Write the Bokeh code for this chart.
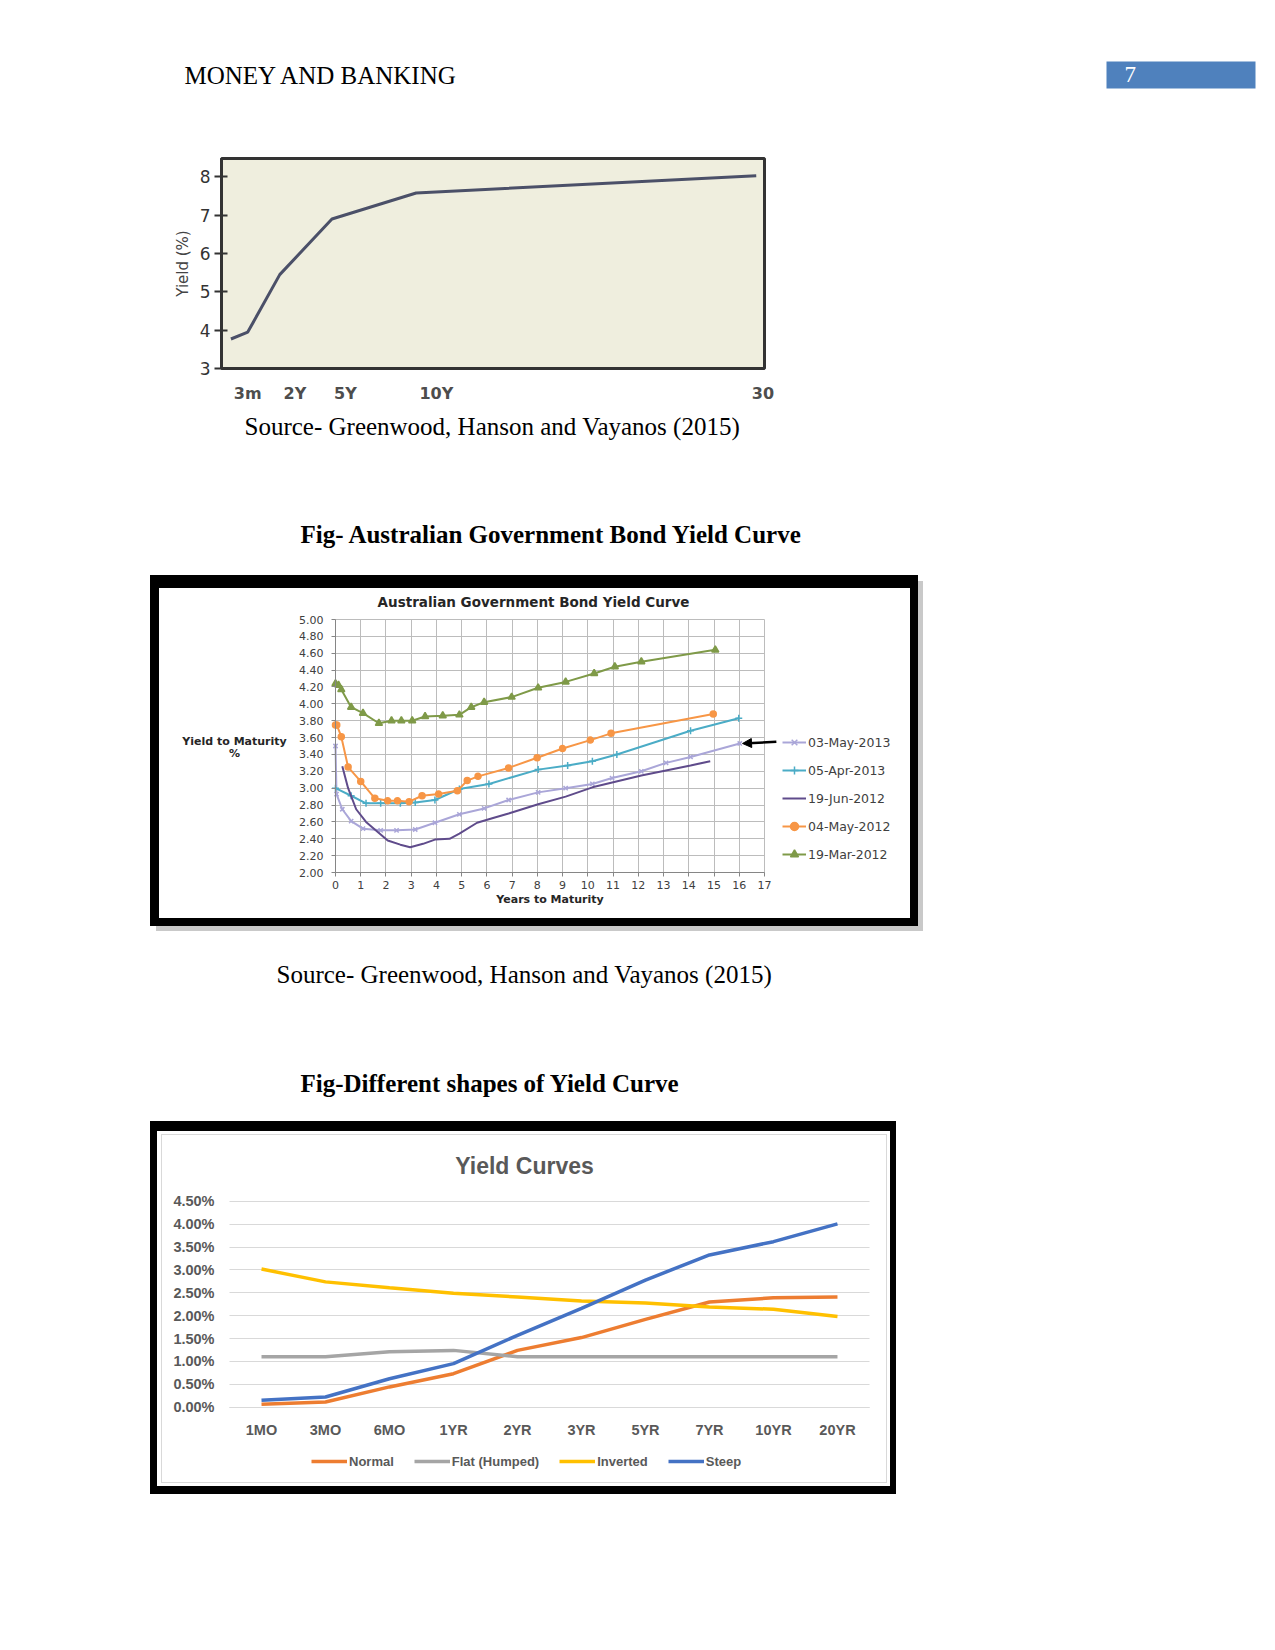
from bokeh.plotting import figure
from bokeh.layouts import column, row
from bokeh.models import (Range1d, Label, BoxAnnotation, Legend, LegendItem,
                          FixedTicker, PrintfTickFormatter, Arrow, NormalHead, Spacer)
from bokeh.embed import file_html
from bokeh.resources import INLINE

PAGE_W = 1275

# ---------------- data ----------------
# Chart 1 (generic upward sloping yield curve)
c1_pos = [-1.0, 0.0, 1.9, 5.0, 10.0, 30.2]
c1_yield = [3.77, 3.95, 5.45, 6.90, 7.58, 8.03]
c1_tick_pos = [0.0, 2.8, 5.8, 11.2, 30.6]
c1_tick_labels = ["3m", "2Y", "5Y", "10Y", "30"]
c1_y_ticks = [3, 4, 5, 6, 7, 8]

# Chart 2 (Australian Government Bond Yield Curve)
may03_2013_x = [0.0, 0.04, 0.27, 0.62, 1.09, 1.79, 2.42, 3.16, 3.94, 4.91, 5.89, 6.86, 8.03,
                9.12, 10.18, 10.96, 12.12, 13.1, 14.07, 16.02]
may03_2013_y = [3.50, 2.93, 2.75, 2.61, 2.52, 2.50, 2.50, 2.51, 2.59, 2.69, 2.76, 2.86, 2.95,
                3.00, 3.05, 3.12, 3.20, 3.30, 3.37, 3.53]
apr05_2013_x = [0.0, 0.62, 1.21, 1.79, 2.57, 3.16, 3.94, 4.91, 6.08, 8.03, 9.2, 10.18, 11.15,
                14.07, 15.98]
apr05_2013_y = [3.00, 2.91, 2.82, 2.82, 2.82, 2.83, 2.86, 2.99, 3.05, 3.22, 3.27, 3.32, 3.40,
                3.68, 3.83]
jun19_2012_x = [0.27, 0.5, 0.82, 1.21, 1.64, 2.07, 2.57, 2.96, 3.47, 3.94, 4.52, 4.91, 5.61,
                6.28, 6.86, 8.03, 9.12, 10.18, 12.12, 14.07, 14.85]
jun19_2012_y = [3.26, 3.00, 2.75, 2.60, 2.49, 2.38, 2.33, 2.30, 2.34, 2.39, 2.40, 2.46, 2.59,
                2.65, 2.70, 2.81, 2.90, 3.01, 3.15, 3.27, 3.32]
may04_2012_x = [0.0, 0.05, 0.23, 0.5, 1.0, 1.56, 2.07, 2.46, 2.92, 3.43, 4.09, 4.83, 5.22,
                5.65, 6.86, 7.99, 9.0, 10.1, 10.92, 14.97]
may04_2012_y = [3.75, 3.75, 3.61, 3.25, 3.08, 2.88, 2.85, 2.85, 2.84, 2.91, 2.93, 2.97, 3.09,
                3.14, 3.24, 3.36, 3.47, 3.57, 3.65, 3.88]
mar19_2012_x = [0.0, 0.12, 0.23, 0.62, 1.09, 1.72, 2.22, 2.61, 3.04, 3.55, 4.25, 4.91, 5.38,
                5.89, 6.98, 8.03, 9.12, 10.25, 11.07, 12.12, 15.05]
mar19_2012_y = [4.24, 4.22, 4.17, 3.96, 3.89, 3.77, 3.80, 3.80, 3.80, 3.85, 3.86, 3.87, 3.96,
                4.02, 4.08, 4.19, 4.26, 4.36, 4.44, 4.50, 4.64]
c2_series_names = ["03-May-2013", "05-Apr-2013", "19-Jun-2012", "04-May-2012", "19-Mar-2012"]
c2_x_ticks = list(range(0, 18))
c2_y_ticks = [2.0, 2.2, 2.4, 2.6, 2.8, 3.0, 3.2, 3.4, 3.6, 3.8, 4.0, 4.2, 4.4, 4.6, 4.8, 5.0]

# Chart 3 (Yield curve shapes)
c3_cats = ["1MO", "3MO", "6MO", "1YR", "2YR", "3YR", "5YR", "7YR", "10YR", "20YR"]
c3_normal = [0.06, 0.11, 0.44, 0.73, 1.24, 1.52, 1.92, 2.30, 2.39, 2.41]
c3_flat = [1.10, 1.10, 1.21, 1.24, 1.10, 1.10, 1.10, 1.10, 1.10, 1.10]
c3_inverted = [3.02, 2.74, 2.61, 2.49, 2.41, 2.32, 2.28, 2.19, 2.14, 1.98]
c3_steep = [0.15, 0.22, 0.62, 0.95, 1.57, 2.16, 2.78, 3.33, 3.62, 4.01]
c3_series_names = ["Normal", "Flat (Humped)", "Inverted", "Steep"]
c3_y_ticks = [0.0, 0.5, 1.0, 1.5, 2.0, 2.5, 3.0, 3.5, 4.0, 4.5]

SERIF = "Liberation Serif"


def box(w, h, color):
    return Spacer(width=w, height=h, styles={"background-color": color})


def set_grid_bounds(grid, bounds, cross):
    grid.bounds = bounds
    try:
        grid.cross_bounds = cross
    except Exception:
        pass


def strip(h, texts):
    p = figure(width=PAGE_W, height=h, x_range=Range1d(0, PAGE_W), y_range=Range1d(h, 0),
               toolbar_location=None, output_backend="svg", min_border=0,
               x_axis_type=None, y_axis_type=None, frame_align=False)
    p.grid.visible = False
    p.outline_line_color = None
    for (txt, x, y, bold) in texts:
        p.add_layout(Label(x=x, y=y, text=txt, text_font=SERIF, text_font_size="25px",
                           text_font_style="bold" if bold else "normal",
                           text_baseline="middle", text_align="left", text_color="black"))
    return p


# ---------------- header ----------------
header = strip(140, [("MONEY AND BANKING", 184, 75, False)])
header.add_layout(BoxAnnotation(left=1106, right=1255, top=61, bottom=88,
                                fill_color="#4f81bd", fill_alpha=1.0, line_color=None))
header.add_layout(Label(x=1124, y=74, text="7", text_font=SERIF, text_font_size="23px",
                        text_baseline="middle", text_color="white"))

# ---------------- chart 1 ----------------
p1 = figure(width=PAGE_W, height=265, x_range=Range1d(-1.56, 30.69), y_range=Range1d(3, 8.48),
            toolbar_location=None, output_backend="svg", frame_align=False,
            min_border_left=221, min_border_right=511, min_border_top=18, min_border_bottom=32)
p1.background_fill_color = "#efeede"
p1.border_fill_color = "white"
p1.outline_line_color = "#333333"
p1.outline_line_width = 3
p1.grid.visible = False
p1.line(c1_pos, c1_yield, line_color="#4b5068", line_width=3)
p1.yaxis.ticker = FixedTicker(ticks=c1_y_ticks)
p1.yaxis.axis_label = "Yield (%)"
p1.yaxis.axis_label_text_font = "DejaVu Sans"
p1.yaxis.axis_label_text_font_size = "15px"
p1.yaxis.axis_label_text_font_style = "normal"
p1.yaxis.axis_label_text_color = "#444444"
p1.yaxis.axis_label_standoff = 5
p1.yaxis.major_label_text_font = "DejaVu Sans"
p1.yaxis.major_label_text_font_size = "17px"
p1.yaxis.major_label_text_color = "#333333"
p1.yaxis.major_label_standoff = 4
p1.yaxis.major_tick_in = 6
p1.yaxis.major_tick_out = 7
p1.yaxis.major_tick_line_color = "#333333"
p1.yaxis.major_tick_line_width = 2
p1.yaxis.minor_tick_line_color = None
p1.yaxis.axis_line_color = "#333333"
p1.yaxis.axis_line_width = 3
p1.xaxis.ticker = FixedTicker(ticks=c1_tick_pos)
p1.xaxis.major_label_overrides = {t: lab for t, lab in zip(c1_tick_pos, c1_tick_labels)}
p1.xaxis.major_label_text_font = "DejaVu Sans"
p1.xaxis.major_label_text_font_size = "16px"
p1.xaxis.major_label_text_font_style = "bold"
p1.xaxis.major_label_text_color = "#4d4d4d"
p1.xaxis.major_label_standoff = 9
p1.xaxis.major_tick_line_color = None
p1.xaxis.minor_tick_line_color = None
p1.xaxis.axis_line_color = None

stripB = strip(170, [("Source- Greenwood, Hanson and Vayanos (2015)", 244, 21, False),
                     ("Fig- Australian Government Bond Yield Curve", 300, 129, True)])

# ---------------- chart 2 ----------------
# the frame covers the whole chart area; axes sit at fixed data locations
p2 = figure(width=751, height=330, x_range=Range1d(-6.974, 22.786),
            y_range=Range1d(1.4546, 5.3676),
            toolbar_location=None, output_backend="svg", frame_align=False, min_border=0)
p2.outline_line_color = None
p2.background_fill_color = "white"
p2.border_fill_color = "white"
p2.xaxis.fixed_location = 2.0
p2.yaxis.fixed_location = 0.0
p2.xaxis.bounds = (0, 17)
p2.yaxis.bounds = (2, 5)
p2.xaxis.ticker = FixedTicker(ticks=c2_x_ticks)
p2.yaxis.ticker = FixedTicker(ticks=c2_y_ticks)
p2.yaxis.formatter = PrintfTickFormatter(format="%.2f")
p2.xgrid.ticker = FixedTicker(ticks=c2_x_ticks)
p2.ygrid.ticker = FixedTicker(ticks=c2_y_ticks)
set_grid_bounds(p2.xgrid[0], (0, 17), (2, 5))
set_grid_bounds(p2.ygrid[0], (2, 5), (0, 17))
p2.grid.grid_line_color = "#bcbcbc"
p2.grid.grid_line_width = 1
for ax in (p2.xaxis[0], p2.yaxis[0]):
    ax.axis_line_color = "#868686"
    ax.major_tick_line_color = "#868686"
    ax.major_tick_in = 0
    ax.major_tick_out = 4
    ax.minor_tick_line_color = None
    ax.major_label_text_font = "DejaVu Sans"
    ax.major_label_text_font_size = "11px"
    ax.major_label_text_color = "#404040"
p2.yaxis.major_label_standoff = 8
p2.xaxis.major_label_standoff = 4
p2.xaxis.axis_label = "Years to Maturity"
p2.xaxis.axis_label_text_font = "DejaVu Sans"
p2.xaxis.axis_label_text_font_size = "11px"
p2.xaxis.axis_label_text_font_style = "bold"
p2.xaxis.axis_label_text_color = "#262626"
p2.xaxis.axis_label_standoff = 1

c2_colors = ["#aaa6d8", "#4bacc6", "#5f4b8b", "#f79646", "#7f9a48"]
c2_data = [(may03_2013_x, may03_2013_y, "x", 6),
           (apr05_2013_x, apr05_2013_y, "cross", 7),
           (jun19_2012_x, jun19_2012_y, None, 0),
           (may04_2012_x, may04_2012_y, "circle", 6),
           (mar19_2012_x, mar19_2012_y, "triangle", 7)]
c2_items = []
for name, col, (xs, ys, mk, sz) in zip(c2_series_names, c2_colors, c2_data):
    rs = [p2.line(xs, ys, line_color=col, line_width=2)]
    if mk is not None:
        rs.append(p2.scatter(xs, ys, marker=mk, size=sz, line_color=col, fill_color=col,
                             line_width=1.5))
    c2_items.append(LegendItem(label=name, renderers=rs))

leg2 = Legend(items=c2_items, location=(623, 54), orientation="vertical",
              glyph_width=24, glyph_height=20, label_height=20, spacing=8, padding=0, margin=0,
              border_line_color=None, background_fill_alpha=0,
              label_text_font="DejaVu Sans", label_text_font_size="12.5px",
              label_text_color="#404040", label_standoff=2)
p2.add_layout(leg2, "center")
p2.add_layout(Label(x=7.846, y=5.2016, text="Australian Government Bond Yield Curve",
                    text_font="DejaVu Sans", text_font_size="13.5px", text_font_style="bold",
                    text_align="center", text_baseline="middle", text_color="#262626"))
p2.add_layout(Label(x=-4.0, y=3.555, text="Yield to Maturity", text_font="DejaVu Sans",
                    text_font_size="11px", text_font_style="bold", text_align="center",
                    text_baseline="middle", text_color="#262626"))
p2.add_layout(Label(x=-4.0, y=3.41, text="%", text_font="DejaVu Sans",
                    text_font_size="11px", text_font_style="bold", text_align="center",
                    text_baseline="middle", text_color="#262626"))
p2.add_layout(Arrow(end=NormalHead(size=9, fill_color="black", line_color="black"),
                    x_start=17.47, y_start=3.55, x_end=16.13, y_end=3.53,
                    line_color="black", line_width=2.5))

blk2_core = column(
    box(768, 13, "#000000"),
    row(box(9, 330, "#000000"), p2, box(8, 330, "#000000")),
    box(768, 8, "#000000"),
)
blk2 = column(
    row(blk2_core, column(box(5, 6, "#ffffff"), box(5, 345, "#c9c9c9"))),
    row(box(6, 5, "#ffffff"), box(767, 5, "#c9c9c9")),
)

stripC = strip(190, [("Source- Greenwood, Hanson and Vayanos (2015)", 276, 43, False),
                     ("Fig-Different shapes of Yield Curve", 300, 152, True)])

# ---------------- chart 3 ----------------
c3_x = [i + 0.5 for i in range(len(c3_cats))]
p3 = figure(width=724, height=347, x_range=Range1d(-1.047, 10.266),
            y_range=Range1d(-1.653, 5.945), toolbar_location=None, output_backend="svg",
            frame_align=False, min_border=0)
p3.outline_line_color = None
p3.xaxis.fixed_location = 0.0
p3.yaxis.fixed_location = 0.0
p3.xaxis.bounds = (0, len(c3_cats))
p3.xaxis.ticker = FixedTicker(ticks=c3_x)
p3.xaxis.major_label_overrides = {x: c for x, c in zip(c3_x, c3_cats)}
p3.xgrid.grid_line_color = None
p3.ygrid.ticker = FixedTicker(ticks=c3_y_ticks)
set_grid_bounds(p3.ygrid[0], (0, 4.5), (0, len(c3_cats)))
p3.ygrid.grid_line_color = "#d9d9d9"
p3.yaxis.ticker = FixedTicker(ticks=c3_y_ticks)
p3.yaxis.formatter = PrintfTickFormatter(format="%.2f%%")
for ax in (p3.xaxis[0], p3.yaxis[0]):
    ax.major_tick_line_color = None
    ax.minor_tick_line_color = None
    ax.major_label_text_font = "Liberation Sans"
    ax.major_label_text_font_size = "14.5px"
    ax.major_label_text_font_style = "bold"
    ax.major_label_text_color = "#595959"
p3.yaxis.axis_line_color = None
p3.yaxis.major_label_standoff = 9
p3.xaxis.axis_line_color = "#d9d9d9"
p3.xaxis.major_label_standoff = 9
p3.add_layout(Label(x=4.61, y=5.288, text="Yield Curves", text_font="Liberation Sans",
                    text_font_size="23px", text_font_style="bold", text_align="center",
                    text_baseline="middle", text_color="#595959"))

c3_colors = ["#ed7d31", "#a5a5a5", "#ffc000", "#4472c4"]
c3_vals = [c3_normal, c3_flat, c3_inverted, c3_steep]
c3_items = []
for name, col, vals in zip(c3_series_names, c3_colors, c3_vals):
    r = p3.line(c3_x, vals, line_color=col, line_width=3.5)
    c3_items.append(LegendItem(label=name, renderers=[r]))
leg3 = Legend(items=c3_items, location=(149, 13), orientation="horizontal",
              glyph_width=36, glyph_height=16, label_height=16, spacing=20, padding=0, margin=0,
              border_line_color=None, background_fill_alpha=0,
              label_text_font="Liberation Sans", label_text_font_size="13px",
              label_text_font_style="bold", label_text_color="#595959", label_standoff=2)
p3.add_layout(leg3, "center")

gray_box = column(box(726, 1, "#d9d9d9"),
                  row(box(1, 347, "#d9d9d9"), p3, box(1, 347, "#d9d9d9")),
                  box(726, 1, "#d9d9d9"))
white_box = column(box(733, 3, "#ffffff"),
                   row(box(4, 349, "#ffffff"), gray_box, box(3, 349, "#ffffff")),
                   box(733, 3, "#ffffff"))
blk3 = column(box(746, 10, "#000000"),
              row(box(7, 355, "#000000"), white_box, box(6, 355, "#000000")),
              box(746, 8, "#000000"))

page = column(
    header,
    p1,
    stripB,
    row(Spacer(width=150, height=356), blk2),
    stripC,
    row(Spacer(width=150, height=373), blk3),
)

open("out.html", "w").write(file_html(page, INLINE))
